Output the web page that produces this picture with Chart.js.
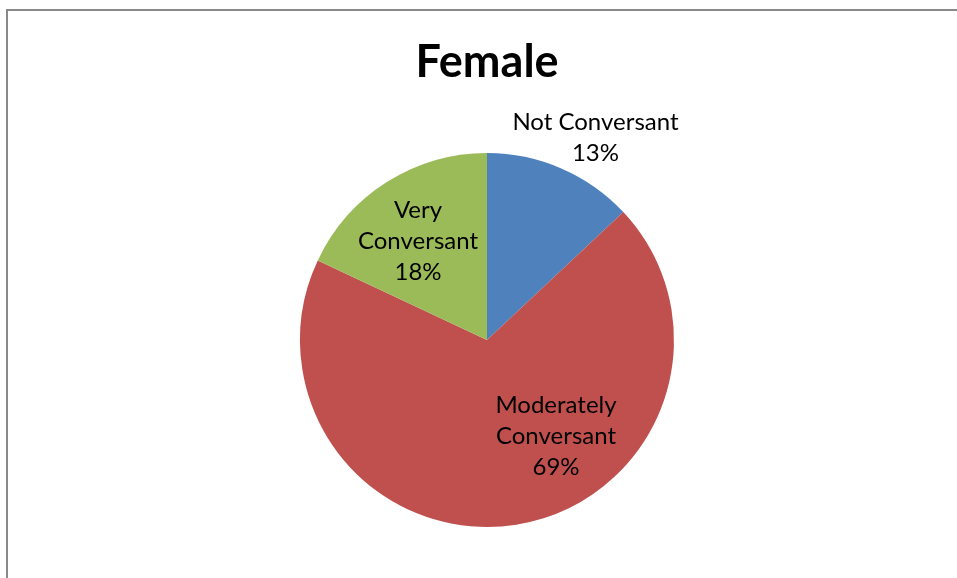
<!DOCTYPE html>
<html lang="en">
  <head>
    <meta charset="UTF-8" />
    <title>Female</title>
    <script src="https://cdn.jsdelivr.net/npm/chart.js@4/dist/chart.umd.min.js"></script>
    <style>
      html, body { margin: 0; padding: 0; background: #fff; }
      .frame {
        position: absolute; left: 6px; top: 9px;
        width: 1000px; height: 620px;
        border: 2px solid #898989; box-sizing: border-box;
      }
      .wrap { position: absolute; left: 0; top: 0; width: 957px; height: 578px; }
    </style>
  </head>
  <body>
    <div class="frame"></div>
    <div class="wrap"><canvas id="pie"></canvas></div>

    <script>
      // data
      const categories = ["Not Conversant", "Moderately Conversant", "Very Conversant"];
      const shares = [13, 69, 18];
      const labelLines = [["Not Conversant"], ["Moderately", "Conversant"], ["Very", "Conversant"]];
      const colors = ["#4F81BD", "#C0504D", "#9BBB59"];

      // label anchor relative to pie centre, in units of the radius
      const labelOffsets = [[0.58, -1.08], [0.369, 0.513], [-0.369, -0.529]];

      const sliceLabels = {
        id: "sliceLabels",
        afterDatasetsDraw(chart) {
          const ctx = chart.ctx;
          const meta = chart.getDatasetMeta(0);
          ctx.save();
          ctx.font = "24px Lato, 'DejaVu Sans', sans-serif";
          ctx.fillStyle = "#000";
          ctx.textAlign = "center";
          ctx.textBaseline = "middle";
          const lh = 31;
          meta.data.forEach((arc, i) => {
            const lines = labelLines[i].concat([shares[i] + "%"]);
            const cx = arc.x + labelOffsets[i][0] * arc.outerRadius;
            const cy = arc.y + labelOffsets[i][1] * arc.outerRadius;
            const y0 = cy - ((lines.length - 1) * lh) / 2;
            lines.forEach((t, k) => ctx.fillText(t, cx, y0 + k * lh));
          });
          ctx.restore();
        },
      };

      new Chart(document.getElementById("pie"), {
        type: "pie",
        data: {
          labels: categories,
          datasets: [
            {
              data: shares,
              backgroundColor: colors,
              borderWidth: 0,
            },
          ],
        },
        options: {
          responsive: true,
          maintainAspectRatio: false,
          animation: false,
          layout: { padding: { left: 17, right: 0, top: 0, bottom: 51 } },
          plugins: {
            legend: { display: false },
            tooltip: { enabled: false },
            title: {
              display: true,
              text: "Female",
              color: "#000",
              font: { family: "Lato, 'DejaVu Sans', sans-serif", size: 45, weight: "bold", lineHeight: 1.2 },
              padding: { top: 35, bottom: 64 },
            },
          },
        },
        plugins: [sliceLabels],
      });
    </script>
  </body>
</html>
